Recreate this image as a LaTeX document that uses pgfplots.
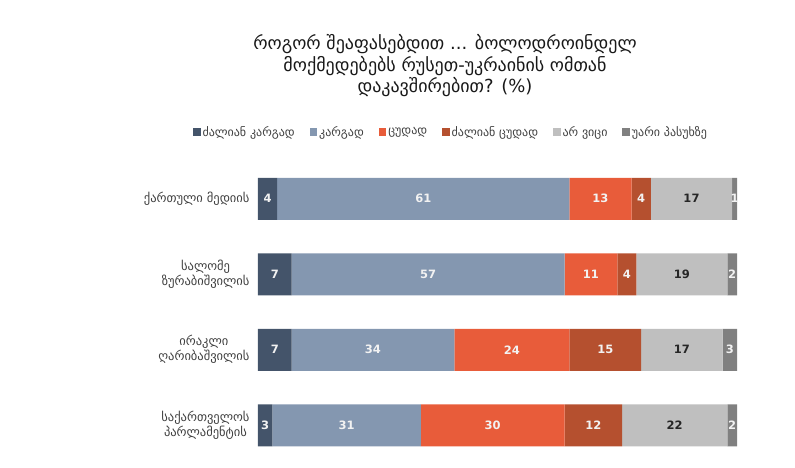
\documentclass[border=0pt]{standalone}
\usepackage{pgfplots}
\pgfplotsset{compat=1.18}
\usepackage{fontspec}
\setmainfont{DejaVu Sans}
\definecolor{c1}{HTML}{44546A}
\definecolor{c2}{HTML}{8497B0}
\definecolor{c3}{HTML}{E85C3A}
\definecolor{c4}{HTML}{B5502F}
\definecolor{c5}{HTML}{BFBFBF}
\definecolor{c6}{HTML}{808080}
\definecolor{txt}{HTML}{404040}
\begin{document}
\begin{tikzpicture}
\path[use as bounding box] (-258pt,-5pt) rectangle (537pt,463pt);
\begin{axis}[
  at={(0,0)}, anchor=south west,
  scale only axis, width=479pt, height=302pt,
  xbar stacked, bar width=42pt,
  xmin=0, xmax=100, ymin=-0.5, ymax=3.5, y dir=reverse,
  /pgf/number format/assume math mode=true,
  axis line style={draw=none},
  tick style={draw=none},
  xtick=\empty,
  ytick={0,1,2,3},
  yticklabels={{ქართული მედიის},{სალომე\\ზურაბიშვილის},{ირაკლი\\ღარიბაშვილის},{საქართველოს\\პარლამენტის}},
  yticklabel style={align=center, font=\fontsize{12.5}{15}\selectfont, text=txt, xshift=-5pt},
  nodes near coords,
  every node near coord/.append style={font=\fontsize{11.5}{14}\selectfont\bfseries, text=white!95!black},
  legend style={at={(0.403,1.096)}, anchor=center, legend columns=-1, draw=none, fill=none,
    font=\fontsize{12}{14}\selectfont, text=txt,
    /tikz/every even column/.append style={column sep=13pt}},
  legend image code/.code={\fill[#1] (0pt,-3.5pt) rectangle (7.5pt,4pt);},
]
\addplot[fill=c1, draw=none] coordinates {(4,0) (7,1) (7,2) (3,3)};
\addplot[fill=c2, draw=none] coordinates {(61,0) (57,1) (34,2) (31,3)};
\addplot[fill=c3, draw=none] coordinates {(13,0) (11,1) (24,2) (30,3)};
\addplot[fill=c4, draw=none] coordinates {(4,0) (4,1) (15,2) (12,3)};
\addplot[fill=c5, draw=none, every node near coord/.append style={text=black!85}] coordinates {(17,0) (19,1) (17,2) (22,3)};
\addplot[fill=c6, draw=none] coordinates {(1,0) (2,1) (3,2) (2,3)};
\legend{ძალიან კარგად, კარგად, ცუდად, ძალიან ცუდად, არ ვიცი, უარი პასუხზე}
\end{axis}
\node[align=center, font=\fontsize{18}{21.5}\selectfont, text=black!90] at (187pt,397pt)
  {როგორ შეაფასებდით ... ბოლოდროინდელ\\მოქმედებებს რუსეთ-უკრაინის ომთან\\დაკავშირებით? (\%)};
\end{tikzpicture}
\end{document}
